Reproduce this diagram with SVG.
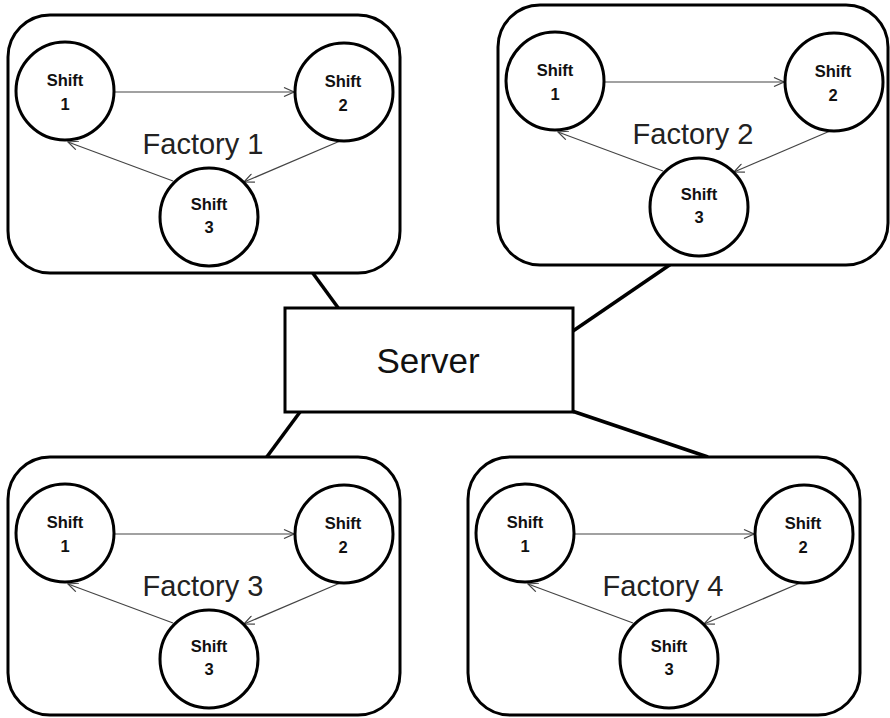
<svg xmlns="http://www.w3.org/2000/svg" width="890" height="718" viewBox="0 0 890 718">
<style>
.box{fill:#fff;stroke:#000;stroke-width:3}
.circ{fill:#fff;stroke:#000;stroke-width:3}
.flabel{font-family:"Liberation Sans",Arial,sans-serif;font-size:29px;fill:#222;text-anchor:middle}
.slabel{font-family:"Liberation Sans",Arial,sans-serif;font-size:16.5px;font-weight:bold;fill:#111;text-anchor:middle}
.arrow{fill:none;stroke:#444;stroke-width:1.2;marker-end:url(#open)}
.link{fill:none;stroke:#000;stroke-width:3.5}
.srv{font-family:"Liberation Sans",Arial,sans-serif;font-size:35px;fill:#111;text-anchor:middle}
</style>
<defs>
<marker id="open" viewBox="0 0 12 10" refX="11" refY="5" markerWidth="12" markerHeight="10" markerUnits="userSpaceOnUse" orient="auto">
<path d="M1,0.5 L11,5 L1,9.5" fill="none" stroke="#444" stroke-width="1.2"/>
</marker>
</defs>
<rect width="890" height="718" fill="#fff"/>

<g id="connectors">
<line class="link" x1="312" y1="272" x2="339" y2="309"/>
<line class="link" x1="671" y1="264" x2="573" y2="331"/>
<line class="link" x1="300" y1="412" x2="266" y2="458"/>
<line class="link" x1="572" y1="411" x2="708" y2="457"/>
</g>

<g id="factory1">
<rect class="box" x="8" y="15" width="392" height="258" rx="42"/>
<text class="flabel" x="203" y="154">Factory 1</text>
</g>
<g id="factory2" transform="translate(490,-10)">
<rect class="box" x="8" y="15" width="390" height="260" rx="42"/>
<text class="flabel" x="203" y="154">Factory 2</text>
</g>
<g id="factory3" transform="translate(0,442)">
<rect class="box" x="8" y="15" width="392" height="258" rx="42"/>
<text class="flabel" x="203" y="154">Factory 3</text>
</g>
<g id="factory4" transform="translate(460,442)">
<rect class="box" x="8" y="15" width="392" height="258" rx="42"/>
<text class="flabel" x="203" y="154">Factory 4</text>
</g>

<g id="server">
<rect class="box" x="285" y="308" width="288" height="104"/>
<text class="srv" x="428" y="373">Server</text>
</g>

<g id="f1-arrows">
<line class="arrow" x1="115" y1="92" x2="294" y2="92"/>
<line class="arrow" x1="340" y1="141" x2="244" y2="182"/>
<line class="arrow" x1="173" y1="181" x2="68" y2="142"/>
</g>
<g id="f2-arrows" transform="translate(490,-10)">
<line class="arrow" x1="115" y1="92" x2="294" y2="92"/>
<line class="arrow" x1="340" y1="141" x2="244" y2="182"/>
<line class="arrow" x1="173" y1="181" x2="68" y2="142"/>
</g>
<g id="f3-arrows" transform="translate(0,442)">
<line class="arrow" x1="115" y1="92" x2="294" y2="92"/>
<line class="arrow" x1="340" y1="141" x2="244" y2="182"/>
<line class="arrow" x1="173" y1="181" x2="68" y2="142"/>
</g>
<g id="f4-arrows" transform="translate(460,442)">
<line class="arrow" x1="115" y1="92" x2="294" y2="92"/>
<line class="arrow" x1="340" y1="141" x2="244" y2="182"/>
<line class="arrow" x1="173" y1="181" x2="68" y2="142"/>
</g>

<g id="f1-shift1"><circle class="circ" cx="65" cy="91" r="49"/><text class="slabel" x="65" y="86">Shift</text><text class="slabel" x="65" y="110">1</text></g>
<g id="f1-shift2"><circle class="circ" cx="344" cy="92" r="49"/><text class="slabel" x="343" y="87">Shift</text><text class="slabel" x="343" y="111">2</text></g>
<g id="f1-shift3"><circle class="circ" cx="209" cy="217" r="49"/><text class="slabel" x="209" y="210">Shift</text><text class="slabel" x="209" y="233">3</text></g>

<g id="f2-shift1" transform="translate(490,-10)"><circle class="circ" cx="65" cy="91" r="49"/><text class="slabel" x="65" y="86">Shift</text><text class="slabel" x="65" y="110">1</text></g>
<g id="f2-shift2" transform="translate(490,-10)"><circle class="circ" cx="344" cy="92" r="49"/><text class="slabel" x="343" y="87">Shift</text><text class="slabel" x="343" y="111">2</text></g>
<g id="f2-shift3" transform="translate(490,-10)"><circle class="circ" cx="209" cy="217" r="49"/><text class="slabel" x="209" y="210">Shift</text><text class="slabel" x="209" y="233">3</text></g>

<g id="f3-shift1" transform="translate(0,442)"><circle class="circ" cx="65" cy="91" r="49"/><text class="slabel" x="65" y="86">Shift</text><text class="slabel" x="65" y="110">1</text></g>
<g id="f3-shift2" transform="translate(0,442)"><circle class="circ" cx="344" cy="92" r="49"/><text class="slabel" x="343" y="87">Shift</text><text class="slabel" x="343" y="111">2</text></g>
<g id="f3-shift3" transform="translate(0,442)"><circle class="circ" cx="209" cy="217" r="49"/><text class="slabel" x="209" y="210">Shift</text><text class="slabel" x="209" y="233">3</text></g>

<g id="f4-shift1" transform="translate(460,442)"><circle class="circ" cx="65" cy="91" r="49"/><text class="slabel" x="65" y="86">Shift</text><text class="slabel" x="65" y="110">1</text></g>
<g id="f4-shift2" transform="translate(460,442)"><circle class="circ" cx="344" cy="92" r="49"/><text class="slabel" x="343" y="87">Shift</text><text class="slabel" x="343" y="111">2</text></g>
<g id="f4-shift3" transform="translate(460,442)"><circle class="circ" cx="209" cy="217" r="49"/><text class="slabel" x="209" y="210">Shift</text><text class="slabel" x="209" y="233">3</text></g>
</svg>
